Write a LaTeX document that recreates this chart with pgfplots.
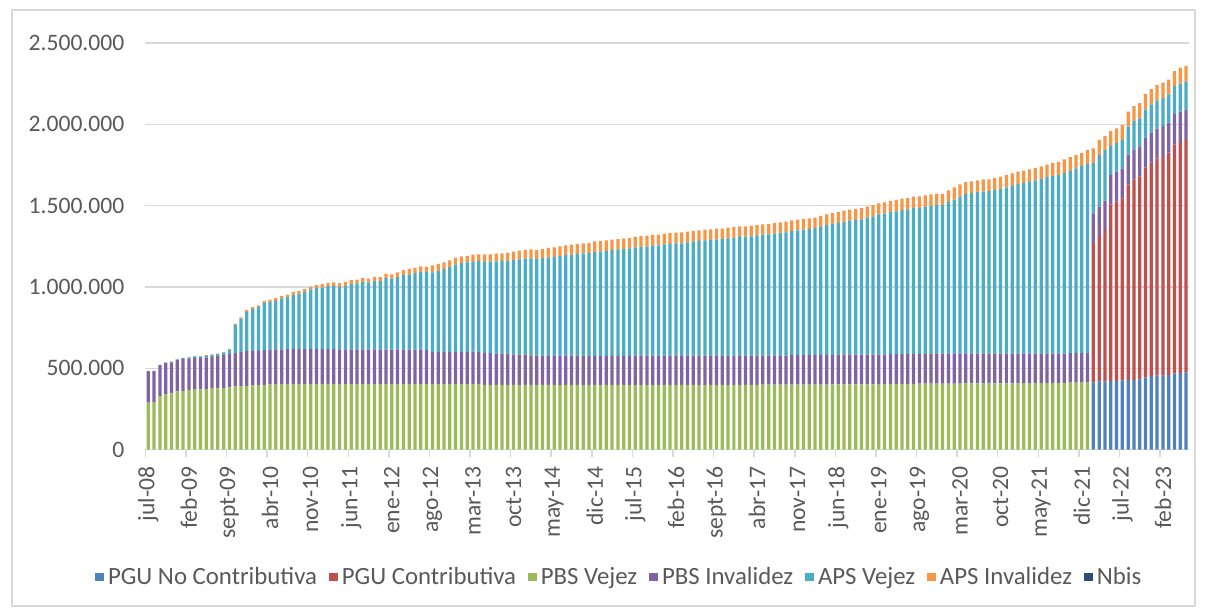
\documentclass[border=0pt]{standalone}
\usepackage{fontspec}
\setmainfont{Carlito}
\usepackage{pgfplots}
\pgfplotsset{compat=1.18}
\usepackage{pgfplotstable}
\definecolor{cpgunc}{HTML}{4F81BD}
\definecolor{cpguc}{HTML}{C0504D}
\definecolor{cpbsv}{HTML}{9BBB59}
\definecolor{cpbsi}{HTML}{8064A2}
\definecolor{capsv}{HTML}{4BACC6}
\definecolor{capsi}{HTML}{F79646}
\definecolor{cnbis}{HTML}{2C4D75}
\definecolor{gridcol}{HTML}{D9D9D9}
\definecolor{labcol}{HTML}{595959}
\pgfplotstableread{
x a b c d e f g
0 0 0 289 194 0 0 0
1 0 0 293 190 0 0 0
2 0 0 330 192 0 0 0
3 0 0 340 193 2 1 0
4 0 0 346 191 4 2 0
5 0 0 358 193 5 2 0
6 0 0 362 195 6 2 0
7 0 0 367 194 7 3 0
8 0 0 369 196 8 3 0
9 0 0 371 194 9 3 0
10 0 0 373 194 10 4 0
11 0 0 375 196 11 4 0
12 0 0 377 198 12 4 0
13 0 0 379 203 14 5 0
14 0 0 383 205 24 6 0
15 0 0 389 205 172 8 0
16 0 0 391 209 205 8 0
17 0 0 393 213 242 10 0
18 0 0 395 215 256 10 0
19 0 0 397 211 268 11 0
20 0 0 399 213 289 12 0
21 0 0 401 214 294 14 0
22 0 0 403 213 299 17 0
23 0 0 405 212 313 16 0
24 0 0 405 213 320 16 0
25 0 0 405 213 332 19 0
26 0 0 405 213 342 15 0
27 0 0 405 213 352 17 0
28 0 0 405 213 367 16 0
29 0 0 405 213 377 16 0
30 0 0 405 213 379 21 0
31 0 0 405 213 387 21 0
32 0 0 405 213 389 21 0
33 0 0 405 211 385 23 0
34 0 0 405 212 390 25 0
35 0 0 405 212 401 24 0
36 0 0 405 211 406 24 0
37 0 0 405 212 415 22 0
38 0 0 405 211 412 24 0
39 0 0 405 211 420 26 0
40 0 0 404 211 422 24 0
41 0 0 404 211 440 27 0
42 0 0 404 211 436 27 0
43 0 0 404 211 446 29 0
44 0 0 404 211 459 30 0
45 0 0 404 211 463 33 0
46 0 0 404 211 471 31 0
47 0 0 404 211 481 31 0
48 0 0 404 210 478 33 0
49 0 0 404 196 490 43 0
50 0 0 404 197 497 45 0
51 0 0 404 197 510 41 0
52 0 0 405 196 522 41 0
53 0 0 405 197 537 41 0
54 0 0 405 197 545 41 0
55 0 0 405 197 549 41 0
56 0 0 405 198 551 45 0
57 0 0 404 196 560 41 0
58 0 0 398 196 560 47 0
59 0 0 398 196 562 45 0
60 0 0 398 192 568 47 0
61 0 0 398 192 570 47 0
62 0 0 398 192 572 49 0
63 0 0 398 186 582 51 0
64 0 0 398 186 586 53 0
65 0 0 398 186 590 53 0
66 0 0 398 182 596 55 0
67 0 0 398 182 592 57 0
68 0 0 398 181 599 57 0
69 0 0 398 181 603 59 0
70 0 0 398 180 606 59 0
71 0 0 398 180 612 60 0
72 0 0 398 180 619 59 0
73 0 0 398 180 621 61 0
74 0 0 398 180 625 63 0
75 0 0 398 180 629 61 0
76 0 0 398 179 632 63 0
77 0 0 398 179 638 65 0
78 0 0 398 179 642 65 0
79 0 0 398 179 644 65 0
80 0 0 398 179 650 64 0
81 0 0 398 179 654 64 0
82 0 0 398 179 656 64 0
83 0 0 398 179 661 63 0
84 0 0 398 180 666 66 0
85 0 0 398 180 668 68 0
86 0 0 398 180 670 68 0
87 0 0 398 180 676 66 0
88 0 0 398 180 678 66 0
89 0 0 398 180 684 66 0
90 0 0 398 180 687 67 0
91 0 0 398 180 691 65 0
92 0 0 398 180 691 67 0
93 0 0 398 180 697 65 0
94 0 0 398 180 703 63 0
95 0 0 398 180 705 65 0
96 0 0 398 180 709 66 0
97 0 0 398 180 711 66 0
98 0 0 398 180 715 66 0
99 0 0 398 180 717 64 0
100 0 0 398 180 721 66 0
101 0 0 398 180 725 66 0
102 0 0 398 180 730 65 0
103 0 0 398 180 732 63 0
104 0 0 398 180 734 65 0
105 0 0 398 180 740 63 0
106 0 0 400 178 744 63 0
107 0 0 400 178 746 63 0
108 0 0 400 178 752 64 0
109 0 0 400 178 756 64 0
110 0 0 400 178 758 66 0
111 0 0 400 181 763 66 0
112 0 0 400 181 767 66 0
113 0 0 400 181 772 65 0
114 0 0 400 181 776 65 0
115 0 0 400 181 782 63 0
116 0 0 400 181 792 64 0
117 0 0 400 181 800 66 0
118 0 0 402 179 806 68 0
119 0 0 402 182 810 67 0
120 0 0 402 182 818 67 0
121 0 0 402 182 824 67 0
122 0 0 402 182 828 68 0
123 0 0 402 182 832 70 0
124 0 0 402 182 840 70 0
125 0 0 402 182 851 69 0
126 0 0 404 180 863 67 0
127 0 0 404 180 867 69 0
128 0 0 404 183 874 68 0
129 0 0 404 183 878 70 0
130 0 0 404 183 886 70 0
131 0 0 404 183 891 69 0
132 0 0 404 183 899 69 0
133 0 0 406 181 899 71 0
134 0 0 406 181 907 69 0
135 0 0 406 181 911 72 0
136 0 0 406 184 914 70 0
137 0 0 406 184 914 68 0
138 0 0 406 184 933 71 0
139 0 0 406 184 947 76 0
140 0 0 406 184 965 76 0
141 0 0 408 182 982 73 0
142 0 0 408 182 988 71 0
143 0 0 408 182 994 72 0
144 0 0 408 182 996 76 0
145 0 0 408 182 1000 72 0
146 0 0 408 182 1006 74 0
147 0 0 408 182 1012 76 0
148 0 0 408 182 1023 77 0
149 0 0 408 182 1031 78 0
150 0 0 408 182 1043 76 0
151 0 0 410 180 1049 76 0
152 0 0 410 180 1057 76 0
153 0 0 410 180 1066 75 0
154 0 0 410 180 1074 78 0
155 0 0 410 180 1086 76 0
156 0 0 410 180 1092 80 0
157 0 0 410 180 1098 82 0
158 0 0 410 180 1111 83 0
159 0 0 412 181 1120 86 0
160 0 0 412 181 1136 82 0
161 0 0 412 181 1151 80 0
162 0 0 412 181 1164 85 0
163 414 857 0 182 312 88 0
164 418 896 0 182 316 92 0
165 418 931 0 182 310 88 0
166 422 1086 0 182 177 92 0
167 422 1105 0 183 176 89 0
168 426 1119 0 184 175 92 0
169 428 1203 0 183 172 92 0
170 430 1231 0 184 175 92 0
171 432 1248 0 185 172 94 0
172 444 1291 0 183 174 94 0
173 452 1313 0 184 173 94 0
174 455 1335 0 183 174 94 0
175 457 1347 0 186 173 94 0
176 459 1368 0 183 174 91 0
177 469 1407 0 187 172 92 0
178 473 1419 0 186 173 96 0
179 475 1429 0 186 173 96 0
}\data
\begin{document}
\begin{tikzpicture}
\path[use as bounding box] (-72.7pt,-81.15pt) rectangle (529.8pt,224.85pt);
\draw[gridcol, line width=0.75pt] (-66.7pt,-78.15pt) rectangle (524.8pt,219.85pt);
\begin{axis}[
  at={(0pt,0pt)}, anchor=south west,
  scale only axis, width=521.8pt, height=203.35pt,
  ybar stacked, bar width=0.56,
  xmin=-0.5, xmax=179.5, ymin=0, ymax=2500,
  axis lines*=left, axis line style={-},
  y axis line style={draw=none},
  x axis line style={draw=gridcol, line width=0.75pt},
  ytick={0,500,...,2500},
  yticklabels={0,500.000,1.000.000,1.500.000,2.000.000,2.500.000},
  ymajorgrids, grid style={draw=gridcol, line width=0.75pt},
  xtick={0,7,...,175},
  xticklabels={jul-08,feb-09,sept-09,abr-10,nov-10,jun-11,ene-12,ago-12,mar-13,oct-13,may-14,dic-14,jul-15,feb-16,sept-16,abr-17,nov-17,jun-18,ene-19,ago-19,mar-20,oct-20,may-21,dic-21,jul-22,feb-23},
  minor xtick={-0.5,6.5,...,174.5},
  major tick length=0pt,
  minor tick length=3.5pt,
  tick align=outside,
  minor x tick style={draw=gridcol, line width=0.75pt},
  tick label style={font=\fontsize{11.8}{13}\selectfont, text=labcol},
  xticklabel style={rotate=90, anchor=east, xshift=-5pt},
  yticklabel style={xshift=-7pt},
  legend columns=-1,
  legend style={at={(0.455,-0.313)}, anchor=center, draw=none, fill=none,
    font=\fontsize{12.4}{14}\selectfont, text=labcol,
    /tikz/every even column/.append style={column sep=4pt}},
  every axis plot post/.append style={draw=none,
    legend image code/.code={\fill[##1] (0pt,-2.2pt) rectangle (4.4pt,2.2pt);}},
]
\addplot[fill=cpgunc] table[x=x,y=a]{\data};
\addplot[fill=cpguc] table[x=x,y=b]{\data};
\addplot[fill=cpbsv] table[x=x,y=c]{\data};
\addplot[fill=cpbsi] table[x=x,y=d]{\data};
\addplot[fill=capsv] table[x=x,y=e]{\data};
\addplot[fill=capsi] table[x=x,y=f]{\data};
\addplot[fill=cnbis] table[x=x,y=g]{\data};
\legend{PGU No Contributiva,PGU Contributiva,PBS Vejez,PBS Invalidez,APS Vejez,APS Invalidez,Nbis}
\end{axis}
\end{tikzpicture}
\end{document}
